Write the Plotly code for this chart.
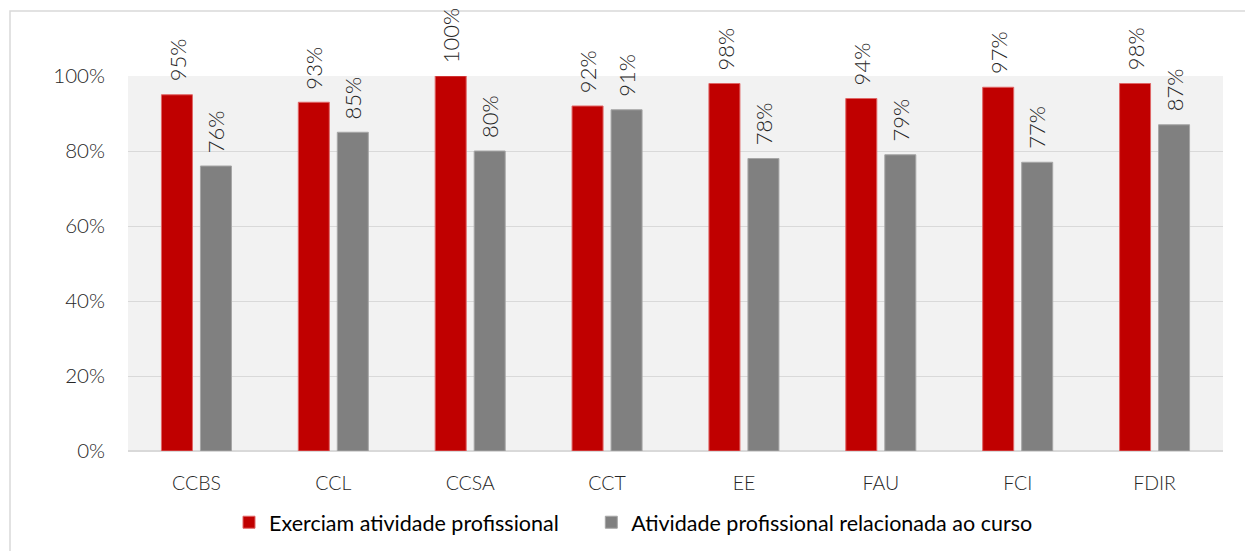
import plotly.graph_objects as go

categories = ["CCBS", "CCL", "CCSA", "CCT", "EE", "FAU", "FCI", "FDIR"]
exerciam = [95, 93, 100, 92, 98, 94, 97, 98]
relacionada = [76, 85, 80, 91, 78, 79, 77, 87]
tick_vals = [0, 20, 40, 60, 80, 100]
tick_text = ["0%", "20%", "40%", "60%", "80%", "100%"]
series_names = ["Exerciam atividade profissional", "Atividade profissional relacionada ao curso"]

RED = "#C00000"
GRAY = "#808080"
FONT = "Lato"
PAD = "\u00a0" * 5

fig = go.Figure()
fig.add_trace(go.Bar(
    x=categories, y=exerciam, name=series_names[0] + PAD,
    marker=dict(color=RED, line=dict(color="#E06666", width=1)),
))
fig.add_trace(go.Bar(
    x=categories, y=relacionada, name=series_names[1],
    marker=dict(color=GRAY, line=dict(color="#A6A6A6", width=1)),
))

annotations = []
for i, c in enumerate(categories):
    for v, off in ((exerciam[i], -0.142), (relacionada[i], 0.142)):
        annotations.append(dict(
            x=i + off, y=v, xref="x", yref="y", text=f"{v}%",
            textangle=-90, showarrow=False, yanchor="bottom", xanchor="center",
            yshift=11, font=dict(family=FONT, size=22, color="#262626", weight=300),
        ))

shapes = [dict(
    type="rect", xref="paper", yref="paper",
    x0=(10 - 128) / 1095, x1=(1265 - 128) / 1095,
    y0=(451 - 570) / 375, y1=(451 - 11) / 375,
    line=dict(color="#D9D9D9", width=1.5), fillcolor="rgba(0,0,0,0)", layer="below",
)]

fig.update_layout(
    width=1245, height=551,
    margin=dict(l=128, r=22, t=76, b=100, autoexpand=False),
    paper_bgcolor="white", plot_bgcolor="#F2F2F2",
    barmode="group", bargap=0.43, bargroupgap=0.205,
    showlegend=True,
    legend=dict(orientation="h", x=(229 - 128) / 1095, xanchor="left", y=-0.19, yanchor="middle",
                font=dict(family=FONT, size=21.5, color="#000000"),
                bgcolor="rgba(0,0,0,0)", traceorder="normal", itemwidth=30),
    annotations=annotations,
    shapes=shapes,
    font=dict(family=FONT),
)
fig.update_xaxes(
    type="category", range=[-0.5, 7.5], showgrid=False, zeroline=False,
    showline=False, ticks="", ticklabelstandoff=18,
    tickfont=dict(family=FONT, size=19.5, color="#262626", weight=300),
)
fig.update_yaxes(
    range=[0, 100], tickvals=tick_vals, ticktext=tick_text,
    showgrid=True, gridcolor="#D9D9D9", gridwidth=1,
    zeroline=True, zerolinecolor="#D9D9D9", zerolinewidth=2,
    showline=False, ticks="", ticklabelstandoff=22,
    tickfont=dict(family=FONT, size=20.5, color="#262626", weight=300),
)

fig.write_html("out.html", config={"displayModeBar": False},
               post_script="document.body.style.margin='0';document.body.style.overflow='hidden';")
